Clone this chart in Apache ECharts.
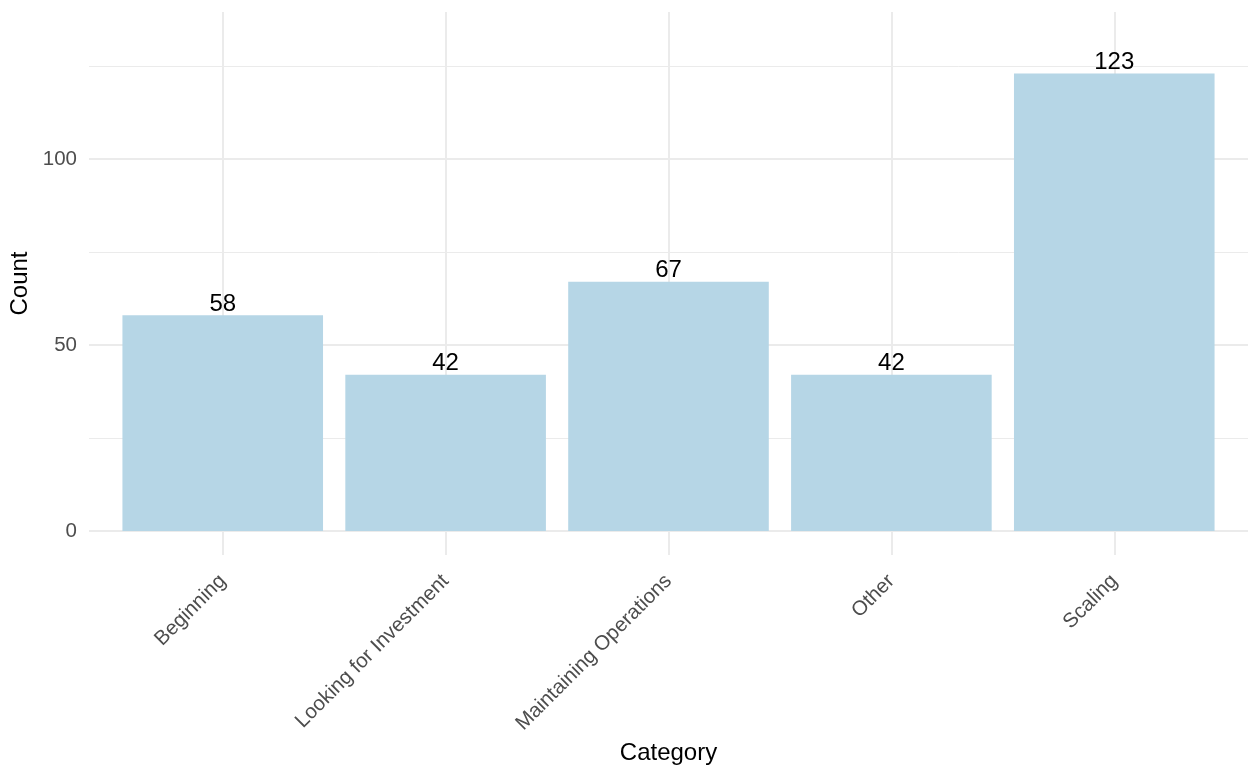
<!DOCTYPE html>
<html>
<head>
<meta charset="utf-8">
<script src="https://cdn.jsdelivr.net/npm/echarts@6/dist/echarts.min.js"></script>
<style>
  html, body { margin: 0; padding: 0; background: #fff; }
  #chart { width: 1249px; height: 769px; }
</style>
</head>
<body>
<div id="chart"></div>
<script>
// Stage categories and how many responses fall in each
const categories = ['Beginning', 'Looking for Investment', 'Maintaining Operations', 'Other', 'Scaling'];
const counts = [58, 42, 67, 42, 123];

// Y axis breaks
const yMajorTicks = [0, 50, 100];
const yMinorTicks = [25, 75, 125];

const FONT = '"Liberation Sans", Arial, Helvetica, sans-serif';
const GRID_MAJOR = '#EBEBEB';

// categories sit at positions 1..n on a numeric x scale
const xPositions = categories.map((_, i) => i + 1);
const barData = counts.map((v, i) => [xPositions[i], v]);

const chart = echarts.init(document.getElementById('chart'), null, { renderer: 'canvas' });

chart.setOption({
  animation: false,
  backgroundColor: '#ffffff',
  grid: { left: 89, right: 1, top: 12, bottom: 214, containLabel: false, outerBoundsMode: 'none' },
  xAxis: {
    type: 'value',
    min: 0.4,
    max: categories.length + 0.6,
    name: 'Category',
    nameLocation: 'middle',
    nameGap: 185,
    nameTextStyle: { color: '#000', fontSize: 24, fontFamily: FONT },
    axisLine: { show: false },
    axisTick: { show: false, customValues: xPositions },
    axisLabel: {
      customValues: xPositions,
      rotate: 45,
      margin: 23,
      color: '#4D4D4D',
      fontSize: 20.5,
      fontFamily: FONT,
      formatter: v => categories[Math.round(v) - 1] || ''
    },
    splitLine: { show: true, lineStyle: { color: GRID_MAJOR, width: 2 } }
  },
  yAxis: [
    {
      type: 'value',
      min: -6.45,
      max: 139.5,
      name: 'Count',
      nameLocation: 'middle',
      nameGap: 56,
      nameRotate: 90,
      nameTextStyle: { color: '#000', fontSize: 24, fontFamily: FONT },
      axisLine: { show: false },
      axisTick: { show: false, customValues: yMajorTicks },
      axisLabel: {
        customValues: yMajorTicks,
        margin: 12,
        color: '#4D4D4D',
        fontSize: 20.5,
        fontFamily: FONT
      },
      splitLine: { show: true, lineStyle: { color: GRID_MAJOR, width: 2 } }
    },
    {
      type: 'value',
      min: -6.45,
      max: 139.5,
      position: 'left',
      axisLine: { show: false },
      axisTick: { show: false, customValues: yMinorTicks },
      axisLabel: { show: false, customValues: yMinorTicks },
      splitLine: { show: true, lineStyle: { color: GRID_MAJOR, width: 1 } }
    }
  ],
  series: [{
    type: 'bar',
    data: barData,
    barWidth: '90%',
    itemStyle: { color: '#B6D6E6' },
    label: {
      show: true,
      position: 'top',
      distance: -1,
      color: '#000',
      fontSize: 24,
      fontFamily: FONT
    }
  }]
});
</script>
</body>
</html>
